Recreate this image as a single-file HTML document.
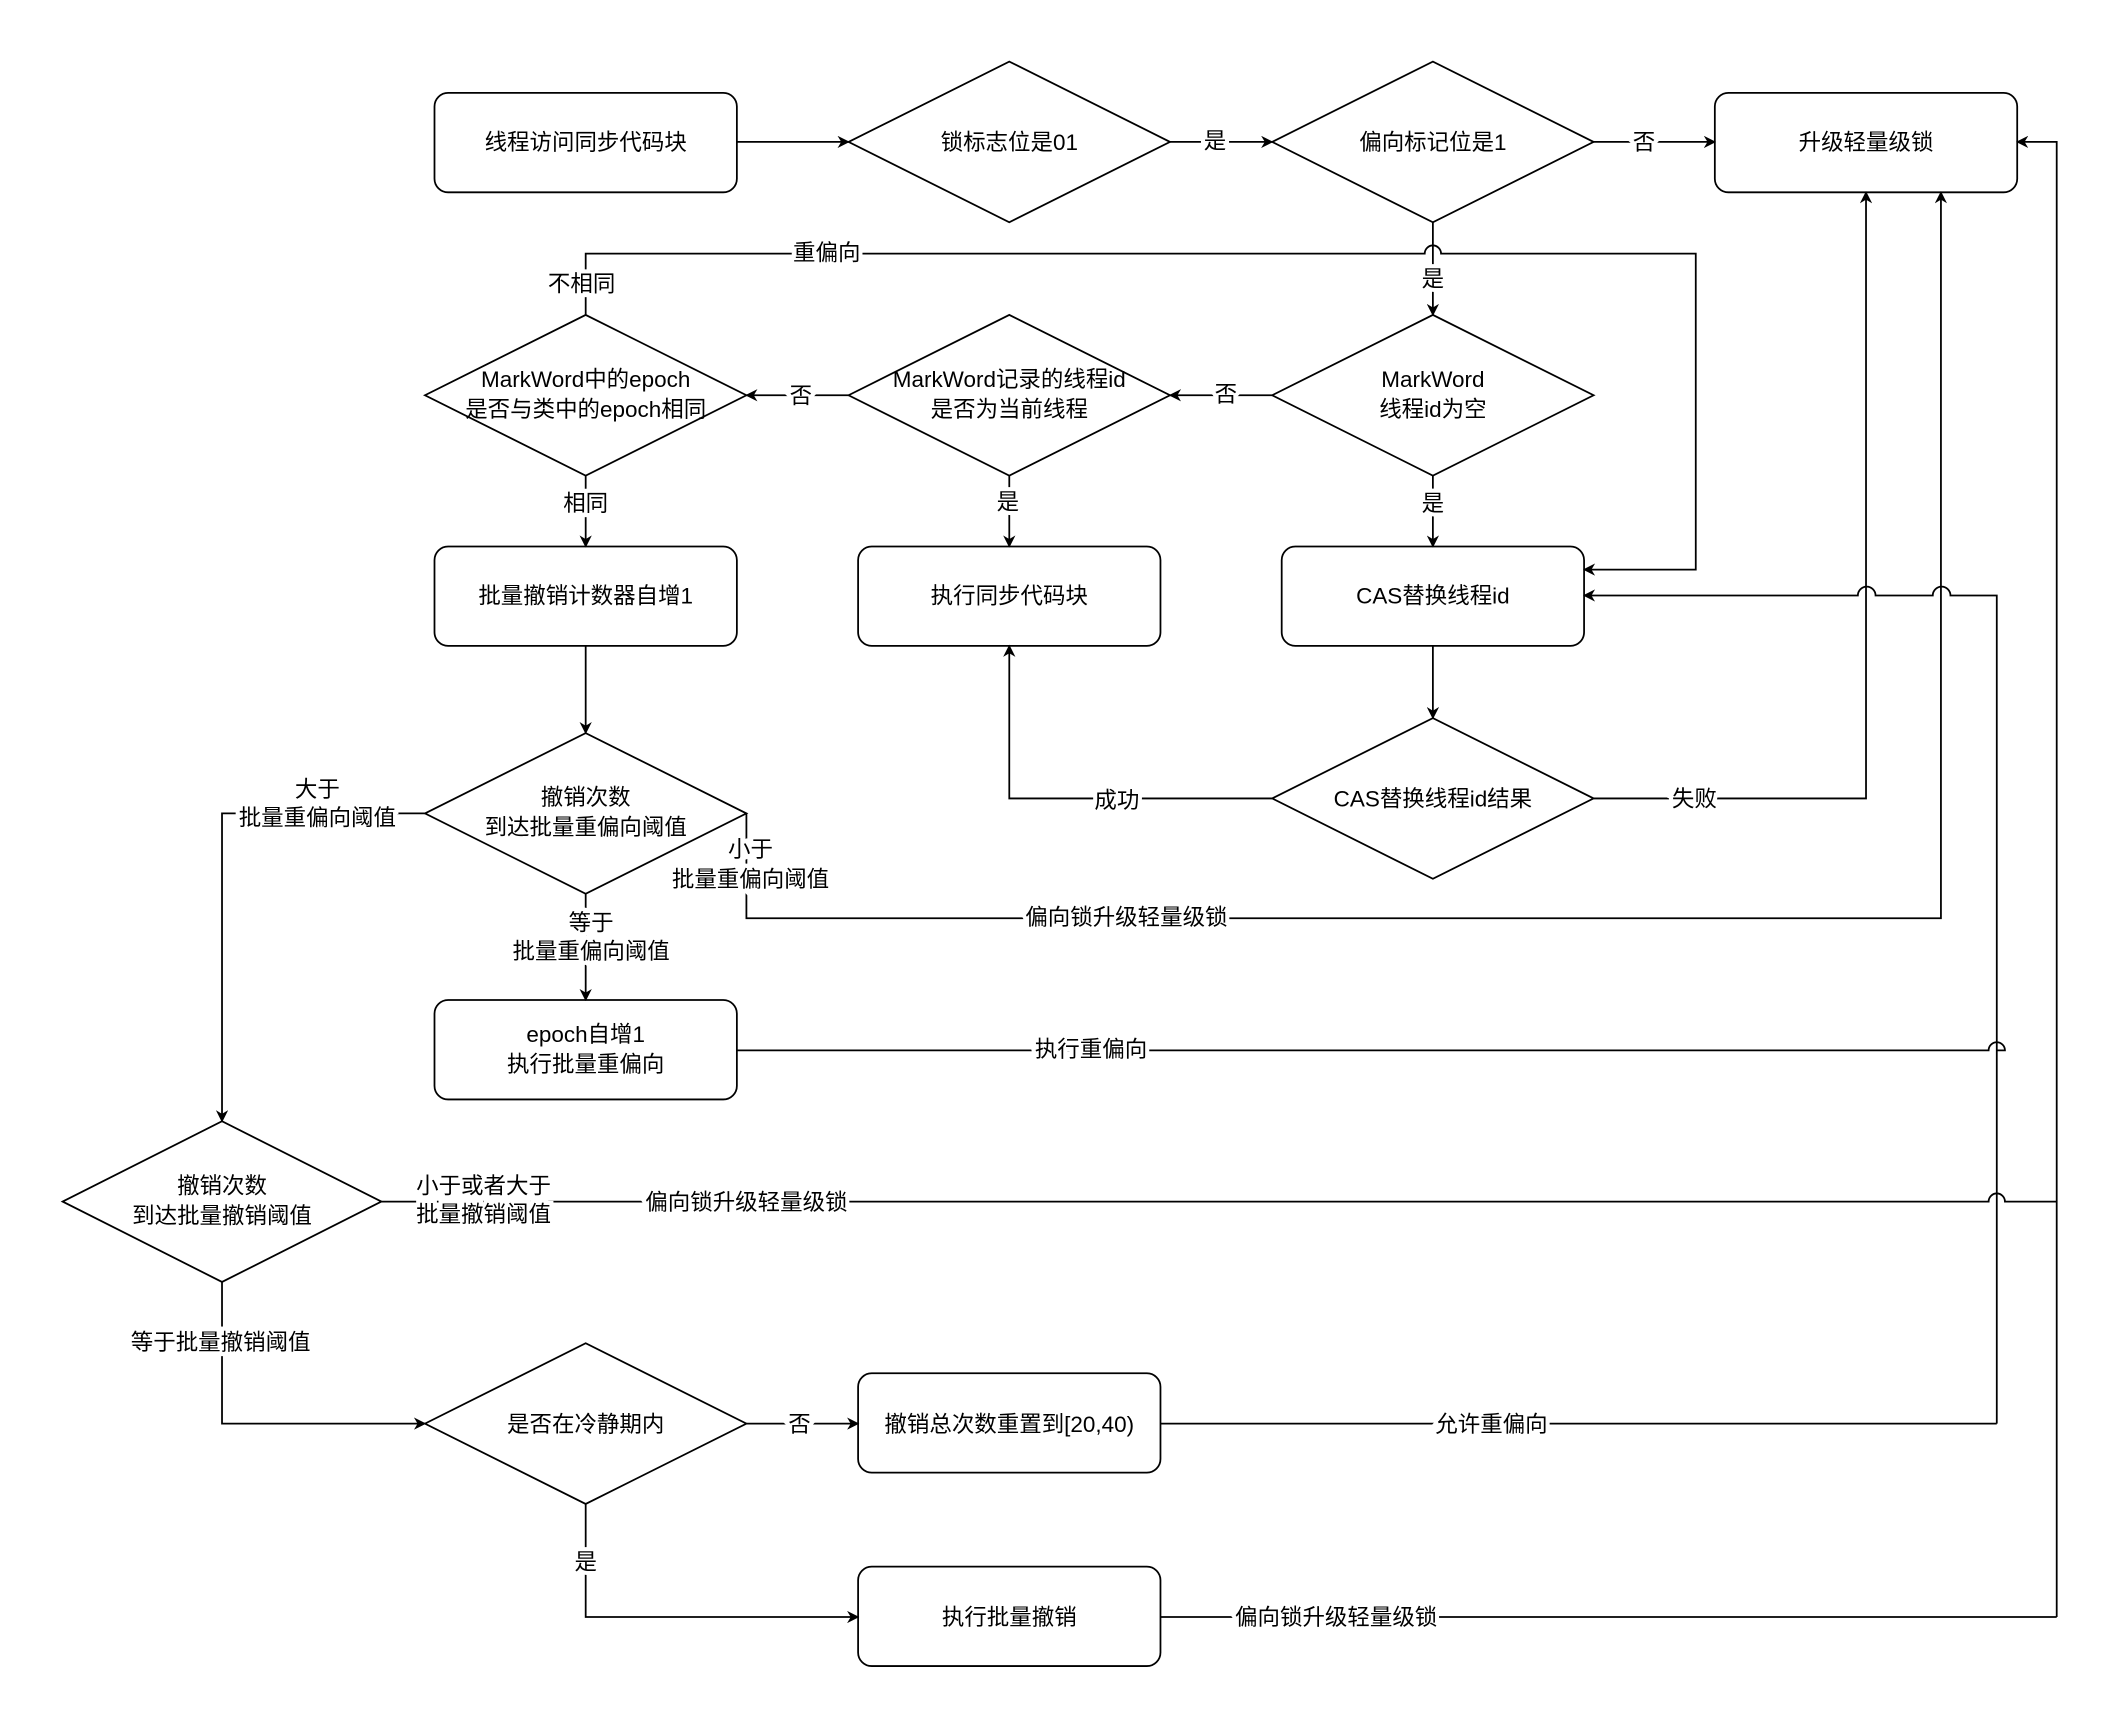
<!DOCTYPE html>
<html><head><meta charset="utf-8"><style>
html,body{margin:0;padding:0;background:#fff;}
svg text{font-family:"Liberation Sans","Noto Sans CJK SC",sans-serif;font-size:16.5px;fill:#000;}
.l{paint-order:stroke;stroke:#fff;stroke-width:6px;}
</style></head><body>
<svg width="2118" height="1714" viewBox="0 0 1555 1258" xmlns="http://www.w3.org/2000/svg">
<defs><marker id="a" viewBox="0 0 10 10" refX="9" refY="5" markerWidth="9" markerHeight="9" orient="auto" markerUnits="userSpaceOnUse"><path d="M0,0 L10,5 L0,10 L3,5 z" fill="#000"/></marker></defs>
<g fill="#fff" stroke="#000" stroke-width="1.3">
<rect x="319" y="68" width="222" height="73" rx="10"/>
<rect x="1259" y="68" width="222" height="73" rx="10"/>
<rect x="319" y="401" width="222" height="73" rx="10"/>
<rect x="630" y="401" width="222" height="73" rx="10"/>
<rect x="941" y="401" width="222" height="73" rx="10"/>
<rect x="319" y="734" width="222" height="73" rx="10"/>
<rect x="630" y="1008" width="222" height="73" rx="10"/>
<rect x="630" y="1150" width="222" height="73" rx="10"/>
<polygon points="623,104 741,45 859,104 741,163"/>
<polygon points="934,104 1052,45 1170,104 1052,163"/>
<polygon points="934,290 1052,231 1170,290 1052,349"/>
<polygon points="623,290 741,231 859,290 741,349"/>
<polygon points="312,290 430,231 548,290 430,349"/>
<polygon points="934,586 1052,527 1170,586 1052,645"/>
<polygon points="312,597 430,538 548,597 430,656"/>
<polygon points="46,882 163,823 280,882 163,941"/>
<polygon points="312,1045 430,986 548,1045 430,1104"/>
</g>
<g fill="none" stroke="#000" stroke-width="1.3" marker-end="url(#a)">
<path d="M541,104 H623"/>
<path d="M859,104 H934"/>
<path d="M1170,104 H1259"/>
<path d="M1052,163 V231"/>
<path d="M430,231 V186 H1046 A6,6 0 0 1 1058,186 H1245 V418 H1163"/>
<path d="M934,290 H859"/>
<path d="M623,290 H548"/>
<path d="M430,349 V401"/>
<path d="M741,349 V401"/>
<path d="M1052,349 V401"/>
<path d="M1052,474 V527"/>
<path d="M934,586 H741 V474"/>
<path d="M1170,586 H1370 V141"/>
<path d="M430,474 V538"/>
<path d="M312,597 H163 V823"/>
<path d="M548,597 V674 H1425 V141"/>
<path d="M430,656 V734"/>
<path d="M1466,1045 V437 H1432 A6,6 0 0 0 1419,437 H1377 A6,6 0 0 0 1364,437 H1163"/>
<path d="M1510,1187 V104 H1481"/>
<path d="M163,941 V1045 H312"/>
<path d="M548,1045 H630"/>
<path d="M430,1104 V1187 H630"/>
</g>
<g fill="none" stroke="#000" stroke-width="1.3">
<path d="M541,771 H1460 A6,6 0 0 1 1472,771 H1466"/>
<path d="M280,882 H1460 A6,6 0 0 1 1472,882 H1510"/>
<path d="M852,1045 H1466"/>
<path d="M852,1187 H1510"/>
</g>
<g text-anchor="middle">
<text x="430" y="110">线程访问同步代码块</text>
<text x="741" y="110">锁标志位是01</text>
<text x="1052" y="110">偏向标记位是1</text>
<text x="1370" y="110">升级轻量级锁</text>
<text x="1052" y="284">MarkWord</text><text x="1052" y="306">线程id为空</text>
<text x="741" y="284">MarkWord记录的线程id</text><text x="741" y="306">是否为当前线程</text>
<text x="430" y="284">MarkWord中的epoch</text><text x="430" y="306">是否与类中的epoch相同</text>
<text x="430" y="443">批量撤销计数器自增1</text>
<text x="741" y="443">执行同步代码块</text>
<text x="1052" y="443">CAS替换线程id</text>
<text x="1052" y="592">CAS替换线程id结果</text>
<text x="430" y="591">撤销次数</text><text x="430" y="613">到达批量重偏向阈值</text>
<text x="430" y="765">epoch自增1</text><text x="430" y="787">执行批量重偏向</text>
<text x="163" y="876">撤销次数</text><text x="163" y="898">到达批量撤销阈值</text>
<text x="430" y="1051">是否在冷静期内</text>
<text x="741" y="1051">撤销总次数重置到[20,40)</text>
<text x="741" y="1193">执行批量撤销</text>
</g>
<g text-anchor="middle" style="font-size:15px">
<text class="l" x="892" y="109">是</text>
<text class="l" x="1207" y="110">否</text>
<text class="l" x="1052" y="210">是</text>
<text class="l" x="607" y="191">重偏向</text>
<text class="l" x="427" y="214">不相同</text>
<text class="l" x="900" y="295">否</text>
<text class="l" x="588" y="296">否</text>
<text class="l" x="430" y="375">相同</text>
<text class="l" x="740" y="374">是</text>
<text class="l" x="1052" y="375">是</text>
<text class="l" x="820" y="593">成功</text>
<text class="l" x="1244" y="592">失败</text>
<text class="l" x="233" y="585">大于</text><text class="l" x="233" y="606">批量重偏向阈值</text>
<text class="l" x="551" y="629">小于</text><text class="l" x="551" y="651">批量重偏向阈值</text>
<text class="l" x="827" y="679">偏向锁升级轻量级锁</text>
<text class="l" x="434" y="683">等于</text><text class="l" x="434" y="704">批量重偏向阈值</text>
<text class="l" x="801" y="776">执行重偏向</text>
<text class="l" x="355" y="876">小于或者大于</text><text class="l" x="355" y="897">批量撤销阈值</text>
<text class="l" x="548" y="888">偏向锁升级轻量级锁</text>
<text class="l" x="162" y="991">等于批量撤销阈值</text>
<text class="l" x="587" y="1051">否</text>
<text class="l" x="1095" y="1051">允许重偏向</text>
<text class="l" x="430" y="1152">是</text>
<text class="l" x="981" y="1193">偏向锁升级轻量级锁</text>
</g>
</svg>
</body></html>
